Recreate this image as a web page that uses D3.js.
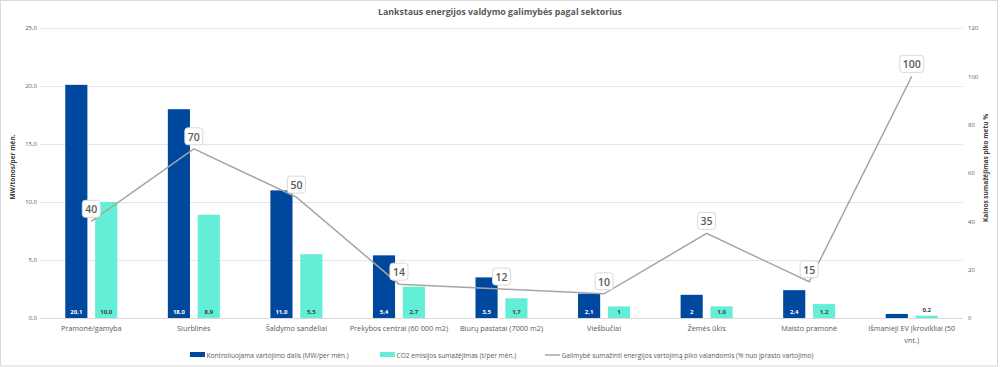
<!DOCTYPE html>
<html><head><meta charset="utf-8">
<script src="https://cdn.jsdelivr.net/npm/d3@7"></script>
<style>body{margin:0;background:#fff}svg{display:block;font-family:"Open Sans","Liberation Sans",sans-serif}</style>
</head><body><svg id="c" width="1000" height="367"></svg>
<script>
const categories = ["Pramonė/gamyba","Siurblinės","Šaldymo sandėliai","Prekybos centrai (60 000 m2)","Biurų pastatai (7000 m2)","Viešbučiai","Žemės ūkis","Maisto pramonė","Išmanieji EV įkrovikliai (50 vnt.)"];
const controlled = [20.1,18.0,11.0,5.4,3.5,2.1,2.0,2.4,0.35];
const controlledLabels = ["20,1","18,0","11,0","5,4","3,5","2,1","2","2,4",""];
const co2 = [10.0,8.9,5.5,2.7,1.7,1.0,1.0,1.2,0.2];
const co2Labels = ["10,0","8,9","5,5","2,7","1,7","1","1,0","1,2","0,2"];
const peak = [40,70,50,14,12,10,35,15,100];
const leftTicks = [0,5,10,15,20,25];
const rightTicks = [0,20,40,60,80,100,120];
const seriesNames = ["Kontroliuojama vartojimo dalis (MW/per mėn.)","CO2 emisijos sumažėjimas (t/per mėn.)","Galimybė sumažinti energijos vartojimą piko valandomis (% nuo įprasto vartojimo)"];
const title = "Lankstaus energijos valdymo galimybės pagal sektorius";
const leftTitle = "MW/tonos/per mėn.";
const rightTitle = "Kainos sumažėjimas piko metu %";

const BLUE="#00479E", TEAL="#63EED7", GRAY="#A5A5A5", TXT="#595959";
const svg = d3.select("#c");
svg.append("rect").attr("x",0.5).attr("y",0.5).attr("width",997).attr("height",365.5).attr("fill","#fff").attr("stroke","#D9D9D9");

const L=40,R=963,T=28,B=318;
const x = d3.scaleBand().domain(categories).range([L,R]);
const x1 = d3.scaleBand().domain(["a","b"]).range([-26,26]).paddingInner(0.26);
const y = d3.scaleLinear().domain([0,25]).range([B,T]);
const y2 = d3.scaleLinear().domain([0,120]).range([B,T]);
const cx = c => x(c)+x.bandwidth()/2;

svg.append("g").selectAll("line").data(leftTicks).join("line")
  .attr("x1",L).attr("x2",R).attr("y1",d=>y(d)+0.5).attr("y2",d=>y(d)+0.5)
  .attr("stroke",d=>d===0?"#D9D9D9":"#E6E6E6").attr("stroke-width",1);

const fmt = d=>d3.format(".1f")(d).replace(".",",");
const la = svg.append("g").attr("transform",`translate(${L-3},0)`).call(d3.axisLeft(y).tickValues(leftTicks).tickFormat(fmt).tickSize(0).tickPadding(0));
la.select(".domain").remove();
la.selectAll("text").attr("fill",TXT).style("font-size","6px").style("font-family","Open Sans");
const ra = svg.append("g").attr("transform",`translate(${R+5},0)`).call(d3.axisRight(y2).tickValues(rightTicks).tickSize(0).tickPadding(0));
ra.select(".domain").remove();
ra.selectAll("text").attr("fill",TXT).style("font-size","6px").style("font-family","Open Sans");

const g = svg.append("g");
g.selectAll("rect.b").data(categories).join("rect").attr("class","b")
  .attr("x",c=>cx(c)+x1("a")).attr("width",x1.bandwidth())
  .attr("y",(c,i)=>y(controlled[i])).attr("height",(c,i)=>B-y(controlled[i])).attr("fill",BLUE);
g.selectAll("rect.t").data(categories).join("rect").attr("class","t")
  .attr("x",c=>cx(c)+x1("b")).attr("width",x1.bandwidth())
  .attr("y",(c,i)=>y(co2[i])).attr("height",(c,i)=>B-y(co2[i])).attr("fill",TEAL);
g.selectAll("text.bl").data(categories).join("text").attr("class","bl")
  .attr("x",c=>cx(c)+x1("a")+x1.bandwidth()/2).attr("y",B-4)
  .attr("text-anchor","middle").attr("fill","#fff").style("font-size","6px").style("font-weight","bold")
  .text((c,i)=>controlledLabels[i]);
g.selectAll("text.tl").data(categories).join("text").attr("class","tl")
  .attr("x",c=>cx(c)+x1("b")+x1.bandwidth()/2)
  .attr("y",(c,i)=> (B-y(co2[i]))<6 ? y(co2[i])-4 : B-4)
  .attr("text-anchor","middle").attr("fill","#404040").style("font-size","6px").style("font-weight","bold")
  .text((c,i)=>co2Labels[i]);

const line = d3.line().x((d,i)=>cx(categories[i])).y(d=>y2(d));
svg.append("path").datum(peak).attr("d",line).attr("fill","none").attr("stroke",GRAY).attr("stroke-width",1.5);

const lg = svg.append("g").selectAll("g").data(peak).join("g")
  .attr("transform",(d,i)=>`translate(${cx(categories[i])},${y2(d)-4})`);
lg.each(function(d){
  const gg=d3.select(this);
  const t=gg.append("text").attr("text-anchor","middle").attr("y",-4).attr("fill",TXT)
    .style("font-size","10.5px").style("font-weight","600").style("font-family","Open Sans").text(d);
  const bb=t.node().getBBox();
  gg.insert("rect","text").attr("x",bb.x-3).attr("y",-17).attr("width",bb.width+6).attr("height",17)
    .attr("rx",3).attr("fill","#fff").attr("stroke","#D9D9D9");
});

const cl = svg.append("g").selectAll("text").data(categories).join("text")
  .attr("x",c=>cx(c)).attr("y",331).attr("text-anchor","middle").attr("fill",TXT).style("font-size","7.3px");
cl.each(function(c){
  const t=d3.select(this);
  if(c.length>30){
    const p=c.lastIndexOf(" ");
    t.append("tspan").attr("x",cx(c)).text(c.slice(0,p));
    t.append("tspan").attr("x",cx(c)).attr("dy",12).text(c.slice(p+1));
  } else t.text(c);
});

svg.append("text").attr("x",500).attr("y",15).attr("text-anchor","middle").attr("fill",TXT)
  .style("font-size","8.8px").style("font-weight","bold").text(title);
svg.append("text").attr("transform","translate(15,167) rotate(-90)").attr("text-anchor","middle").attr("fill","#404040")
  .style("font-size","6.5px").style("font-weight","bold").text(leftTitle);
svg.append("text").attr("transform","translate(988,168) rotate(-90)").attr("text-anchor","middle").attr("fill","#404040")
  .style("font-size","6.5px").style("font-weight","bold").text(rightTitle);

const legX=[190,380,545], legY=355;
const leg = svg.append("g").selectAll("g").data(seriesNames).join("g").attr("transform",(d,i)=>`translate(${legX[i]},${legY})`);
leg.each(function(d,i){
  const gg=d3.select(this);
  if(i<2) gg.append("rect").attr("x",0).attr("y",-3).attr("width",15).attr("height",5).attr("fill",i===0?BLUE:TEAL);
  else gg.append("line").attr("x1",0).attr("x2",15).attr("y1",0).attr("y2",0).attr("stroke",GRAY).attr("stroke-width",1.5);
  gg.append("text").attr("x",16.5).attr("y",2.5).attr("fill",TXT).style("font-size","6.6px").text(d);
});
</script></body></html>
